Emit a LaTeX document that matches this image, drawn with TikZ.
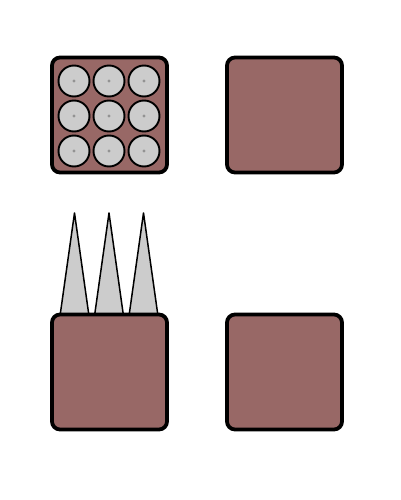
\documentclass[tikz,border=0pt]{standalone}
\usepackage{xcolor}
\usepackage{tikz}
\usetikzlibrary{positioning}
\definecolor{brick}{RGB}{152,104,102}
\definecolor{pale}{RGB}{204,204,204}
\tikzset{tile/.style={draw,line width=3.8pt,fill=brick,rounded corners=8pt,
           minimum size=115pt,inner sep=0pt},
         cell/.style={circle,draw,line width=1.9pt,fill=pale,
           minimum size=31pt,inner sep=0pt},
         spike/.style={draw,line width=1.5pt,fill=pale,line join=round},
         pin/.style={fill=gray!85}}

\begin{document}
\begin{tikzpicture}[x=1pt,y=-1pt]
\useasboundingbox (0,0) rectangle (400,500);
% spikes first, the lower tile covers their bases
\foreach \i in {0,1,2}
  \draw[spike] ({60+34.5*\i},316)--({74.5+34.5*\i},213)--({89+34.5*\i},316)--cycle;
\node[tile] (topleft) at (109.5,115) {};
\node[tile] (topright) at (284.5,115) {};
\node[tile] (botleft) at (109.5,372) {};
\node[tile] (botright) at (284.5,372) {};
% the 3x3 grid of cells
\foreach \r in {0,1,2}
  \foreach \c in {0,1,2} {
    \node[cell] (cell\r\c) at ({74+35*\c},{81+35*\r}) {};
    \fill[pin] (cell\r\c) circle (1.7pt);
  }
\end{tikzpicture}
\end{document}
